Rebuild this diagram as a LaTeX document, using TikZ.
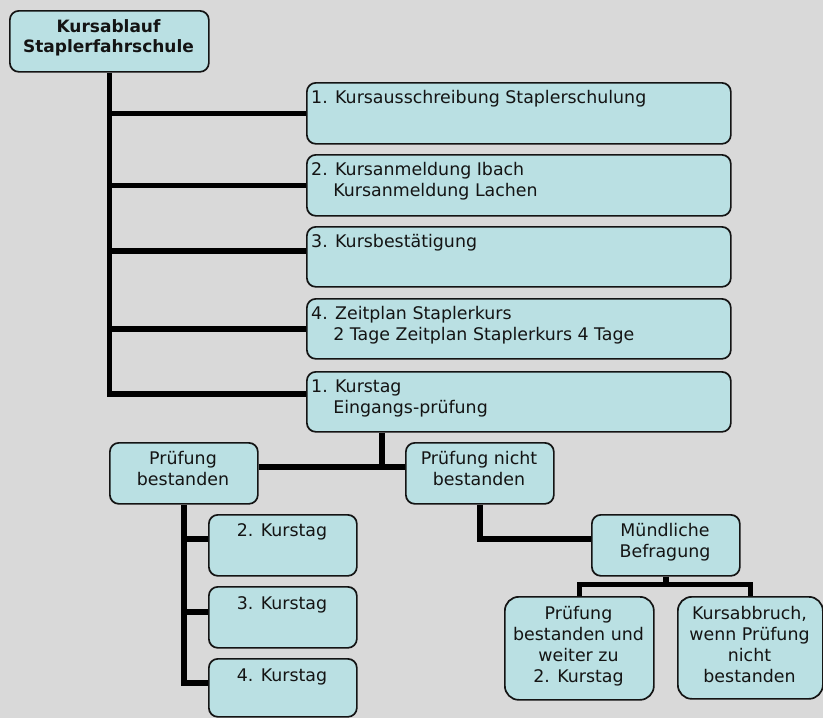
\documentclass[tikz,border=0pt]{standalone}
\usepackage{fontspec}
\setmainfont{DejaVu Sans}
\definecolor{bgcol}{HTML}{D9D9D9}
\definecolor{boxfill}{HTML}{BAE0E3}
\definecolor{ink}{HTML}{141414}
\newcommand\myst{\rule{0pt}{15pt}}
\pgfdeclarelayer{bglayer}
\pgfdeclarelayer{lines}
\pgfsetlayers{bglayer,lines,main}
\tikzset{
  box/.style={draw=ink, line width=1.7pt, fill=boxfill, rounded corners=9pt, inner sep=0pt, anchor=north west},
  widebox/.style={box, minimum width=424pt},
  smallbox/.style={box, minimum width=148pt, minimum height=61pt},
  tallbox/.style={box, rounded corners=14pt, minimum height=103pt},
  conn/.style={draw=black, line width=5.5pt},
  txt/.style={inner sep=0pt, text=ink, font=\fontsize{17.4}{21}\selectfont},
  ltxt/.style={txt, anchor=north west, align=left},
  ctxt/.style={txt, anchor=north, align=center},
}
\begin{document}
\begin{tikzpicture}[x=1pt, y=-1pt]
\useasboundingbox (0,0) rectangle (823,718);
\begin{pgfonlayer}{bglayer}
  \fill[bgcol] (0,0) rectangle (823,718);
\end{pgfonlayer}

% boxes
\node[box, minimum width=199pt, minimum height=61pt] (root) at (9,10) {};
\node[widebox, minimum height=61pt] (W1) at (306,82) {};
\node[widebox, minimum height=61pt] (W2) at (306,154) {};
\node[widebox, minimum height=60pt] (W3) at (306,226) {};
\node[widebox, minimum height=60pt] (W4) at (306,298) {};
\node[widebox, minimum height=60pt] (W5) at (306,371) {};
\node[smallbox] (PB) at (109,442) {};
\node[smallbox] (PNB) at (405,442) {};
\node[smallbox] (K2) at (208,514) {};
\node[smallbox] (K3) at (208,586) {};
\node[smallbox, minimum height=58pt] (K4) at (208,658) {};
\node[smallbox] (MB) at (591,514) {};
\node[tallbox, minimum width=149pt] (BL) at (504,596) {};
\node[tallbox, minimum width=145pt, minimum height=102pt] (BR) at (677,596) {};

% texts
\node[txt, ctxt, font=\fontsize{17}{20}\selectfont\bfseries] (t0) at (108.5,17) {\myst Kursablauf\\Staplerfahrschule};
\node[ltxt] (t1) at (311,88.5) {\myst 1. Kursausschreibung Staplerschulung};
\node[ltxt] (t2) at (311,160.5) {\myst 2. Kursanmeldung Ibach\\\phantom{2.\ }Kursanmeldung Lachen};
\node[ltxt] (t3) at (311,232.5) {\myst 3. Kursbestätigung};
\node[ltxt] (t4) at (311,304.5) {\myst 4. Zeitplan Staplerkurs\\\phantom{4.\ }2 Tage Zeitplan Staplerkurs 4 Tage};
\node[ltxt] (t5) at (311,377.5) {\myst 1. Kurstag\\\phantom{1.\ }Eingangs-prüfung};
\node[ctxt] (t6) at (183,449) {\myst Prüfung\\bestanden};
\node[ctxt] (t7) at (479,449) {\myst Prüfung nicht\\bestanden};
\node[ctxt] (t8) at (282,521) {\myst 2. Kurstag};
\node[ctxt] (t9) at (282,594) {\myst 3. Kurstag};
\node[ctxt] (t10) at (282,666) {\myst 4. Kurstag};
\node[ctxt] (t11) at (665,521) {\myst Mündliche\\Befragung};
\node[ctxt] (t12) at (578.5,604) {\myst Prüfung\\bestanden und\\weiter zu\\2. Kurstag};
\node[ctxt] (t13) at (749.5,604) {\myst Kursabbruch,\\wenn Prüfung\\nicht\\bestanden};

% connector helper coordinates
\coordinate (c3) at ([yshift=6pt]W3.west);
\coordinate (c5) at ([yshift=8pt]W5.west);
\coordinate (j1) at ([xshift=-137pt]W5.south);
\coordinate (j2) at ([yshift=4pt]PB.east);
\coordinate (pbr) at ([yshift=6.5pt]PB.east);
\coordinate (pnbl) at ([yshift=6.5pt]PNB.west);
\coordinate (k2c) at ([yshift=6.5pt]K2.west);
\coordinate (k3c) at ([yshift=5.5pt]K3.west);
\coordinate (k4c) at ([yshift=5pt]K4.west);
\coordinate (mbc) at ([yshift=6.5pt]MB.west);
\coordinate (mbj) at ([yshift=-8pt]MB.south);

\begin{pgfonlayer}{lines}
  \draw[conn] (root.south) |- (c5);
  \draw[conn] (root.south |- W1.west) -- (W1.west);
  \draw[conn] (root.south |- W2.west) -- (W2.west);
  \draw[conn] (root.south |- c3) -- (c3);
  \draw[conn] (root.south |- W4.west) -- (W4.west);
  \draw[conn] (j1) -- (j1 |- j2);
  \draw[conn] (pbr) -- (pnbl);
  \draw[conn] (PB.south) |- (k4c);
  \draw[conn] (PB.south |- k2c) -- (k2c);
  \draw[conn] (PB.south |- k3c) -- (k3c);
  \draw[conn] (PNB.south) |- (mbc);
  \draw[conn] (MB.south) -- (mbj);
  \draw[conn] (BL.north) |- (mbj) -| (BR.north);
\end{pgfonlayer}
\end{tikzpicture}
\end{document}
